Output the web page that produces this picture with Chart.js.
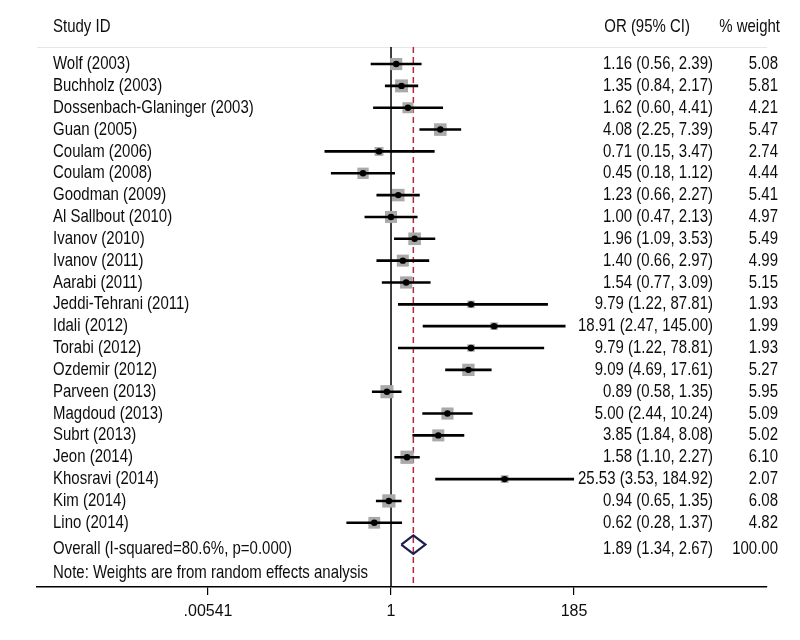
<!DOCTYPE html>
<html>
<head>
<meta charset="utf-8">
<script src="https://cdn.jsdelivr.net/npm/chart.js@4.4.1/dist/chart.umd.min.js"></script>
<style>
  html, body { margin: 0; padding: 0; background: #fff; }
  #wrap { width: 800px; height: 640px; }
</style>
</head>
<body>
<div id="wrap"><canvas id="forest"></canvas></div>
<script>
// study data
var studies = ['Wolf (2003)', 'Buchholz (2003)', 'Dossenbach-Glaninger (2003)', 'Guan (2005)',
    'Coulam (2006)', 'Coulam (2008)', 'Goodman (2009)', 'Al Sallbout (2010)', 'Ivanov (2010)',
    'Ivanov (2011)', 'Aarabi (2011)', 'Jeddi-Tehrani (2011)', 'Idali (2012)', 'Torabi (2012)',
    'Ozdemir (2012)', 'Parveen (2013)', 'Magdoud (2013)', 'Subrt (2013)', 'Jeon (2014)',
    'Khosravi (2014)', 'Kim (2014)', 'Lino (2014)'];
var oddsRatio = [1.16, 1.35, 1.62, 4.08, 0.71, 0.45, 1.23, 1.00, 1.96, 1.40, 1.54, 9.79, 18.91,
    9.79, 9.09, 0.89, 5.00, 3.85, 1.58, 25.53, 0.94, 0.62];
var ciLower = [0.56, 0.84, 0.60, 2.25, 0.15, 0.18, 0.66, 0.47, 1.09, 0.66, 0.77, 1.22, 2.47,
    1.22, 4.69, 0.58, 2.44, 1.84, 1.10, 3.53, 0.65, 0.28];
var ciUpper = [2.39, 2.17, 4.41, 7.39, 3.47, 1.12, 2.27, 2.13, 3.53, 2.97, 3.09, 87.81, 145.00,
    78.81, 17.61, 1.35, 10.24, 8.08, 2.27, 184.92, 1.35, 1.37];
var weights = [5.08, 5.81, 4.21, 5.47, 2.74, 4.44, 5.41, 4.97, 5.49, 4.99, 5.15, 1.93, 1.99,
    1.93, 5.27, 5.95, 5.09, 5.02, 6.10, 2.07, 6.08, 4.82];

var overallLabel = 'Overall (I-squared=80.6%, p=0.000)';
var overallOR = 1.89, overallLower = 1.34, overallUpper = 2.67, overallWeight = 100.00;
var noteText = 'Note: Weights are from random effects analysis';

var tickValues = [0.00541, 1, 185];
var tickLabels = ['.00541', '1', '185'];

var FONT = '"Liberation Sans", Arial, sans-serif';
var NARROW = 0.81;  // squeeze Liberation Sans to a narrow face
var xMin = 4.12e-5, xMax = 45400;
var yTop = -0.78, yBottom = 23.94;
var nRows = studies.length;

function fmt(v) { return v.toFixed(2); }

// CI segments in one dataset, broken by nulls
var ciData = [];
for (var i = 0; i < nRows; i++) {
    ciData.push({x: ciLower[i], y: i});
    ciData.push({x: ciUpper[i], y: i});
    ciData.push({x: null, y: null});
}
var pointData = oddsRatio.map(function (v, i) { return {x: v, y: i}; });
var oy = nRows;
var diamond = [
    {x: overallLower, y: oy}, {x: overallOR, y: oy - 0.42},
    {x: overallUpper, y: oy}, {x: overallOR, y: oy + 0.42},
    {x: overallLower, y: oy}
];

function narrowText(ctx, str, x, y, align) {
    ctx.save();
    ctx.translate(x, y);
    ctx.scale(NARROW, 1);
    ctx.textAlign = align;
    ctx.fillText(str, 0, 0);
    ctx.restore();
}

var textPlugin = {
    id: 'forestText',
    afterDatasetsDraw: function (chart) {
        var ctx = chart.ctx;
        var ys = chart.scales.y;
        var orX = 713, wX = 778;
        ctx.save();
        ctx.fillStyle = '#0d0d0d';
        ctx.font = '18.5px ' + FONT;
        ctx.textBaseline = 'middle';
        // headers
        var hy = 27;
        narrowText(ctx, 'Study ID', 53, hy, 'left');
        narrowText(ctx, 'OR (95% CI)', 690, hy, 'right');
        narrowText(ctx, '% weight', 780, hy, 'right');
        for (var i = 0; i < nRows; i++) {
            var py = ys.getPixelForValue(i);
            narrowText(ctx, studies[i], 53, py, 'left');
            narrowText(ctx, fmt(oddsRatio[i]) + ' (' + fmt(ciLower[i]) + ', ' + fmt(ciUpper[i]) + ')', orX, py, 'right');
            narrowText(ctx, fmt(weights[i]), wX, py, 'right');
        }
        var opy = ys.getPixelForValue(oy) + 4;
        narrowText(ctx, overallLabel, 53, opy, 'left');
        narrowText(ctx, fmt(overallOR) + ' (' + fmt(overallLower) + ', ' + fmt(overallUpper) + ')', orX, opy, 'right');
        narrowText(ctx, fmt(overallWeight), wX, opy, 'right');
        narrowText(ctx, noteText, 53, ys.getPixelForValue(oy) + 28, 'left');
        ctx.restore();
    }
};

var ctx = document.getElementById('forest').getContext('2d');
var forest = new Chart(ctx, {
    type: 'scatter',
    data: {
        datasets: [
            {
                label: 'point',
                data: pointData,
                pointStyle: 'circle',
                pointRadius: 3.2,
                backgroundColor: '#000',
                borderColor: '#000',
                borderWidth: 0,
                order: 0
            },
            {
                label: 'ci',
                type: 'line',
                data: ciData,
                showLine: true,
                spanGaps: false,
                borderColor: '#000',
                borderWidth: 2.6,
                pointRadius: 0,
                order: 1
            },
            {
                label: 'weight',
                data: pointData,
                pointStyle: 'rect',
                pointRadius: weights.map(function (w) { return 3.8 * Math.sqrt(w); }),
                backgroundColor: '#a9a9a9',
                borderWidth: 0,
                order: 2
            },
            {
                label: 'overall',
                type: 'line',
                data: diamond,
                showLine: true,
                borderColor: '#1b1f4e',
                borderWidth: 2.2,
                pointRadius: 0,
                order: 1
            },
            {
                label: 'null line',
                type: 'line',
                data: [{x: 1, y: yTop}, {x: 1, y: yBottom}],
                borderColor: '#000',
                borderWidth: 1.5,
                pointRadius: 0,
                order: 3
            },
            {
                label: 'overall line',
                type: 'line',
                data: [{x: overallOR, y: yTop}, {x: overallOR, y: yBottom}],
                borderColor: '#b3283f',
                borderWidth: 1.5,
                borderDash: [6, 4],
                pointRadius: 0,
                order: 3
            },
            {
                label: 'header',
                type: 'line',
                data: [{x: xMin, y: yTop}, {x: xMax, y: yTop}],
                borderColor: '#cfcfcf',
                borderWidth: 1.2,
                pointRadius: 0,
                order: 4
            }
        ]
    },
    options: {
        responsive: true,
        maintainAspectRatio: false,
        animation: false,
        layout: {padding: {left: 37, right: 33, top: 47, bottom: 0}},
        plugins: {
            legend: {display: false},
            tooltip: {enabled: false}
        },
        scales: {
            x: {
                type: 'logarithmic',
                min: xMin,
                max: xMax,
                afterBuildTicks: function (scale) {
                    scale.ticks = tickValues.map(function (v) { return {value: v}; });
                },
                afterFit: function (scale) { scale.height = 53; },
                ticks: {
                    autoSkip: false,
                    maxRotation: 0,
                    padding: 7,
                    color: '#0d0d0d',
                    font: {family: FONT, size: 16},
                    callback: function (v, idx) { return tickLabels[idx]; }
                },
                grid: {drawOnChartArea: false, drawTicks: true, tickLength: 8, color: '#000', lineWidth: 1.2},
                border: {display: true, color: '#000', width: 1.5}
            },
            y: {
                type: 'linear',
                display: false,
                reverse: true,
                min: yTop,
                max: yBottom
            }
        }
    },
    plugins: [textPlugin]
});
</script>
</body>
</html>
